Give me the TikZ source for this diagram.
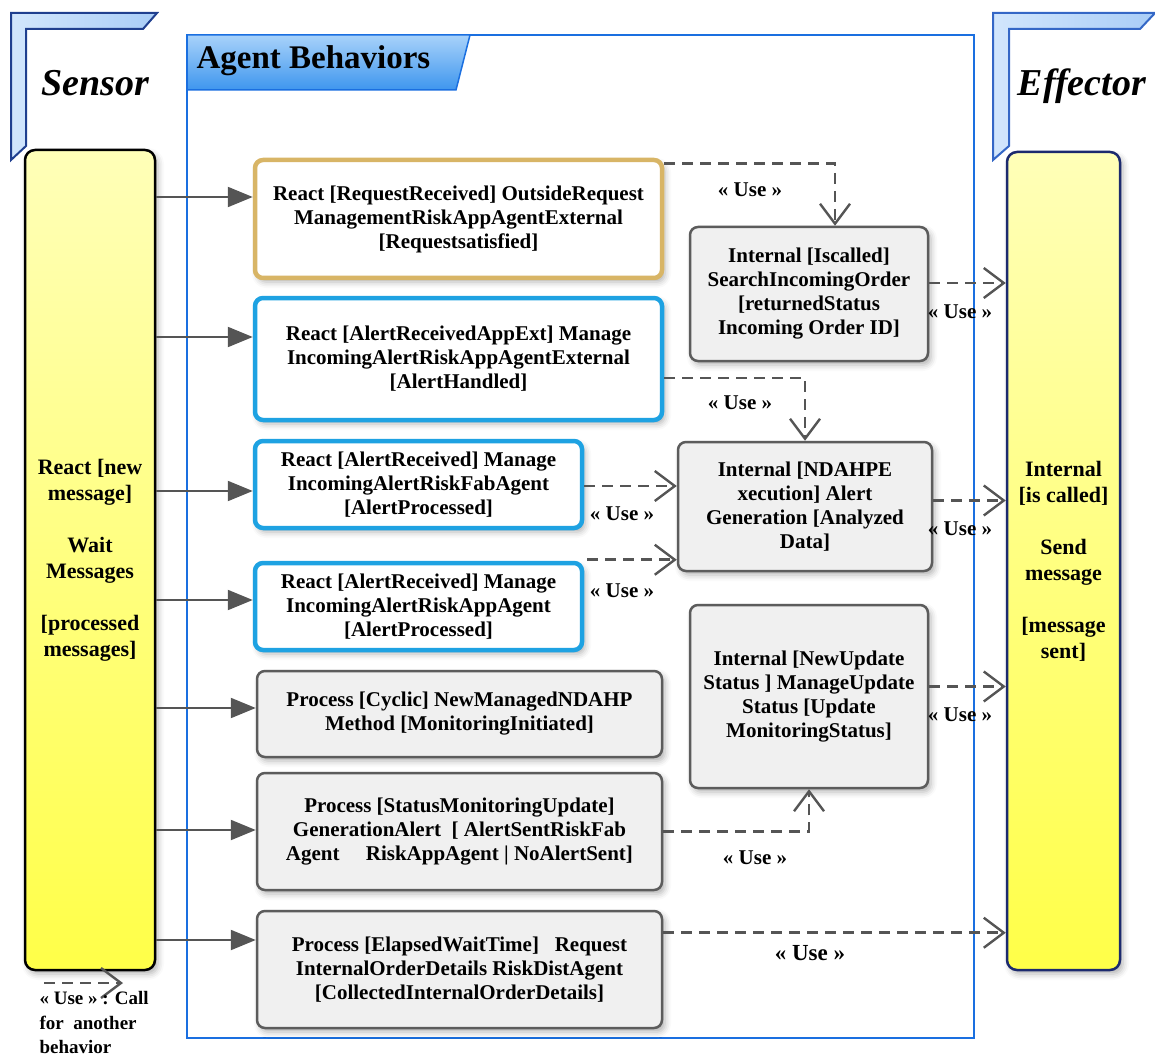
\documentclass[tikz,border=0pt]{standalone}
\usepackage{fontspec}
\setmainfont{Liberation Serif}
\usetikzlibrary{arrows.meta,calc,shadows.blur}

\definecolor{conn}{HTML}{555555}
\definecolor{goldb}{HTML}{D8B566}
\definecolor{cyanb}{HTML}{1EA2E2}
\definecolor{grayb}{HTML}{5C5C5C}
\definecolor{boxgray}{HTML}{F0F0F0}
\definecolor{framec}{HTML}{1A6FE0}
\definecolor{tabtop}{HTML}{A8D2FA}
\definecolor{tabbot}{HTML}{3E96EE}
\definecolor{brfill}{HTML}{A9CDF7}
\definecolor{brlight}{HTML}{D2E6FC}
\definecolor{brdark}{HTML}{1F3F8F}
\definecolor{brmid}{HTML}{3467C6}
\definecolor{ytop}{HTML}{FFFFB8}
\definecolor{ymid}{HTML}{FFFFD6}
\definecolor{ybot}{HTML}{FFFF48}
\definecolor{navy}{HTML}{1C2A6E}

\begin{document}
\begin{tikzpicture}[x=1pt,y=-1pt,
  every node/.style={align=center, text=black},
  softshadow/.style={blur shadow={shadow xshift=3pt, shadow yshift=-4pt,
      shadow blur radius=6pt, shadow opacity=30}},
  behav/.style={rounded corners=8pt, inner sep=0pt, softshadow,
      font=\fontsize{21}{24}\selectfont\bfseries},
  goldbox/.style={behav, draw=goldb, line width=4.5pt, fill=white},
  bluebox/.style={behav, draw=cyanb, line width=4.5pt, fill=white},
  graybox/.style={behav, draw=grayb, line width=2.5pt, fill=boxgray},
  lane/.style={rounded corners=10pt, inner sep=0pt, line width=2.5pt, softshadow,
      top color=ytop, middle color=ymid, bottom color=ybot,
      font=\fontsize{22}{26}\selectfont\bfseries},
  title/.style={font=\fontsize{38}{42}\selectfont\bfseries\itshape},
  sol/.style={draw=conn, line width=2.2pt, -{Triangle[length=25pt,width=20pt]}},
  use/.style={draw=conn, line width=2.6pt, dash pattern=on 11pt off 7pt,
      -{Straight Barb[length=20pt,width=30pt,line width=2.4pt]}},
  uselbl/.style={font=\fontsize{21}{22}\selectfont\bfseries},
]
\useasboundingbox (0,0) rectangle (1155,1056);

% frame of the behaviour package and its tab
\draw[framec, line width=2pt] (187,35) rectangle (974,1038);
\draw[framec, line width=1.5pt, top color=tabtop, bottom color=tabbot]
  (187,35) -- (470,35) -- (456,90) -- (187,90) -- cycle;
\node[font=\fontsize{33}{36}\selectfont\bfseries, anchor=west] (abtitle) at (193,61) {Agent Behaviors};

% sensor and effector brackets
\draw[brdark, line width=2pt, left color=brlight, right color=brfill]
  (11,13) -- (157,13) -- (143,29) -- (26,29) -- (26,146) -- (11,160) -- cycle;
\draw[brmid, line width=2pt, left color=brlight, right color=brfill]
  (993,13) -- (1155,13) -- (1140,29) -- (1009,29) -- (1009,146) -- (993,160) -- cycle;
\node[title] (sensortitle) at (95,83) {Sensor};
\node[title] (effectortitle) at (1082,86) {Effector};

% sensor and effector lanes
\node[lane, draw=black, minimum width=130pt, minimum height=820pt] (sensor) at (90,560)
  {React [new\\ message]\\[26pt] Wait\\ Messages\\[26pt] {[}processed\\ messages]};
\node[lane, draw=navy, minimum width=113pt, minimum height=818pt] (eff) at (1063.5,561)
  {Internal\\ {[}is called]\\[26pt] Send\\ message\\[26pt] {[}message\\ sent]};

% behaviours
\node[goldbox, minimum width=407pt, minimum height=118pt] (b1) at (458.5,219)
  {React [RequestReceived] OutsideRequest\\ ManagementRiskAppAgentExternal\\ {[}Requestsatisfied]};
\node[bluebox, minimum width=407pt, minimum height=122pt] (b2) at (458.5,359)
  {React [AlertReceivedAppExt] Manage\\ IncomingAlertRiskAppAgentExternal\\ {[}AlertHandled]};
\node[bluebox, minimum width=327pt, minimum height=87pt] (b3) at (418.5,484.5)
  {React [AlertReceived] Manage\\ IncomingAlertRiskFabAgent\\ {[}AlertProcessed]};
\node[bluebox, minimum width=327pt, minimum height=87pt] (b4) at (418.5,606.5)
  {React [AlertReceived] Manage\\ IncomingAlertRiskAppAgent\\ {[}AlertProcessed]};
\node[graybox, minimum width=405pt, minimum height=86pt] (b5) at (459.5,714)
  {Process [Cyclic] NewManagedNDAHP\\ Method [MonitoringInitiated]};
\node[graybox, minimum width=405pt, minimum height=117pt] (b6) at (459.5,831.5)
  {Process [StatusMonitoringUpdate]\\ GenerationAlert\ \ [ AlertSentRiskFab\\ Agent\quad\ RiskAppAgent | NoAlertSent]};
\node[graybox, minimum width=405pt, minimum height=117pt] (b7) at (459.5,969.5)
  {Process [ElapsedWaitTime]\ \ \ Request\\ InternalOrderDetails RiskDistAgent\\ {[}CollectedInternalOrderDetails]};

% internal behaviours
\node[graybox, minimum width=238pt, minimum height=134pt] (A) at (809,294)
  {Internal [Iscalled]\\ SearchIncomingOrder\\ {[}returnedStatus\\ Incoming Order ID]};
\node[graybox, minimum width=254pt, minimum height=129pt] (B) at (805,506.5)
  {Internal [NDAHPE\\ xecution] Alert\\ Generation [Analyzed\\ Data]};
\node[graybox, minimum width=238pt, minimum height=183pt] (C) at (809,696.5)
  {Internal [NewUpdate\\ Status ] ManageUpdate\\ Status [Update\\ MonitoringStatus]};

% triggers from the sensor
\foreach \b/\dy in {b1/-22, b2/-22, b3/6.5, b4/-6.5, b5/-6, b6/-1.5, b7/-29.5} {
  \coordinate (t\b) at ($(\b.west)+(0,\dy)$);
  \draw[sol] (sensor.east |- t\b) -- (t\b);
}

% << Use >> dependencies
\draw[use] ($(b1.north east)+(0,6)$) -| ($(A.north)+(26,0)$);
\draw[use] ($(b2.east)+(0,19)$) -| (B.north);
\coordinate (u3) at ($(b3.east)+(0,1.5)$);
\draw[use] (u3) -- (u3 -| B.west);
\coordinate (u4) at ($(b4.north east)+(3,-1)$);
\draw[use] (u4) -- (u4 -| B.west);
\draw[use] (b6.east) -| (C.south);
\coordinate (u7) at ($(b7.north east)+(0,23)$);
\draw[use] (u7) -- (u7 -| eff.west);
\coordinate (uA) at ($(A.east)+(0,-11)$);
\draw[use] (uA) -- (uA -| eff.west);
\coordinate (uB) at ($(B.east)+(0,-6)$);
\draw[use] (uB) -- (uB -| eff.west);
\coordinate (uC) at ($(C.east)+(0,-10)$);
\draw[use] (uC) -- (uC -| eff.west);

\node[uselbl] (l1) at (750,190) {« Use »};
\node[uselbl] (l2) at (740,403) {« Use »};
\node[uselbl] (l3) at (622,514) {« Use »};
\node[uselbl] (l4) at (622,591) {« Use »};
\node[uselbl] (l5) at (755,858) {« Use »};
\node[font=\fontsize{23}{24}\selectfont\bfseries] (l6) at (810,953) {« Use »};
\node[uselbl] (l7) at (960,312) {« Use »};
\node[uselbl] (l8) at (960,529) {« Use »};
\node[uselbl] (l9) at (960,715) {« Use »};

% legend
\coordinate (lgs) at (44,983);
\coordinate (lge) at (123,983);
\draw[use] (lgs) -- (lge);
\node[font=\fontsize{19}{24.5}\selectfont\bfseries, align=left, anchor=north west]
  (legend) at (36,988) {« Use » : Call\\ for\ \ another\\ behavior};
\end{tikzpicture}
\end{document}
